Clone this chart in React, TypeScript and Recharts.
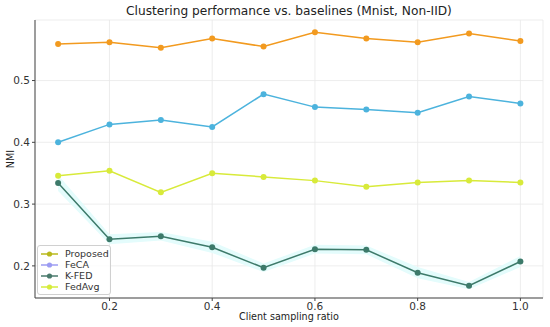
import {
  ComposedChart,
  Line,
  Area,
  XAxis,
  YAxis,
  CartesianGrid,
} from "recharts";

const ratios = [0.1, 0.2, 0.3, 0.4, 0.5, 0.6, 0.7, 0.8, 0.9, 1.0];
const proposed = [0.559, 0.562, 0.553, 0.568, 0.555, 0.578, 0.568, 0.562, 0.576, 0.564];
const feca = [0.4, 0.429, 0.436, 0.425, 0.478, 0.457, 0.453, 0.448, 0.474, 0.463];
const kfed = [0.334, 0.243, 0.248, 0.23, 0.197, 0.227, 0.226, 0.189, 0.168, 0.207];
const kfedSpread = [0.013, 0.008, 0.007, 0.009, 0.007, 0.007, 0.007, 0.009, 0.006, 0.009];
const fedavg = [0.346, 0.354, 0.319, 0.35, 0.344, 0.338, 0.328, 0.335, 0.338, 0.335];

const xTicks = [0.2, 0.4, 0.6, 0.8, 1.0];
const yTicks = [0.2, 0.3, 0.4, 0.5];

const legendItems = [
  { name: "Proposed", color: "#b8b81c" },
  { name: "FeCA", color: "#9c9cf2" },
  { name: "K-FED", color: "#4a7a6c" },
  { name: "FedAvg", color: "#d6ec3c" },
];

const data = ratios.map((r, i) => ({
  ratio: r,
  proposed: proposed[i],
  feca: feca[i],
  kfed: kfed[i],
  fedavg: fedavg[i],
  band: [kfed[i] - kfedSpread[i], kfed[i] + kfedSpread[i]],
}));

const FONT = "'DejaVu Sans', sans-serif";

function LegendBox() {
  return (
    <div
      style={{
        position: "absolute",
        left: 37,
        top: 245,
        width: 70,
        background: "rgba(255,255,255,0.8)",
        border: "1px solid #d0d0d0",
        borderRadius: 3,
        padding: "2px 0 2px 2px",
        fontFamily: FONT,
        fontSize: 9.5,
        color: "#333",
      }}
    >
      {legendItems.map((it) => (
        <div key={it.name} style={{ display: "flex", alignItems: "center", height: 11 }}>
          <svg width={20} height={8} style={{ marginRight: 5 }}>
            <line x1={1} y1={4} x2={18} y2={4} stroke={it.color} strokeWidth={1.5} />
            <circle cx={9.5} cy={4} r={2.6} fill={it.color} />
          </svg>
          <span>{it.name}</span>
        </div>
      ))}
    </div>
  );
}

export default function App() {
  const dot = (c: string) => ({ r: 3, fill: c, stroke: c, strokeWidth: 0 });
  return (
    <div style={{ position: "absolute", left: 0, top: 0, width: 550, height: 327, background: "#fff" }}>
      <ComposedChart
        width={550}
        height={327}
        data={data}
        margin={{ top: 20, right: 7, bottom: 0, left: 0 }}
      >
        <CartesianGrid stroke="#e8e8e8" strokeWidth={0.8} />
        <XAxis
          dataKey="ratio"
          type="number"
          domain={[0.055, 1.044]}
          ticks={xTicks}
          allowDataOverflow
          height={29}
          tickFormatter={(v: number) => v.toFixed(1)}
          tick={{ fontFamily: FONT, fontSize: 10.5, fill: "#333" }}
          axisLine={{ stroke: "#444", strokeWidth: 1 }}
          tickLine={{ stroke: "#444" }}
          tickSize={3}
        />
        <YAxis
          type="number"
          domain={[0.148, 0.598]}
          ticks={yTicks}
          allowDataOverflow
          width={35}
          tickFormatter={(v: number) => v.toFixed(1)}
          tick={{ fontFamily: FONT, fontSize: 10.5, fill: "#333" }}
          axisLine={{ stroke: "#444", strokeWidth: 1 }}
          tickLine={{ stroke: "#444" }}
          tickSize={3}
        />
        <Area
          dataKey="band"
          stroke="none"
          fill="#e4fcfc"
          fillOpacity={1}
          isAnimationActive={false}
          activeDot={false}
          legendType="none"
        />
        <Line dataKey="proposed" name="Proposed" stroke="#f29a1f" strokeWidth={1.5} dot={dot("#f29a1f")} isAnimationActive={false} />
        <Line dataKey="feca" name="FeCA" stroke="#4cb3dd" strokeWidth={1.5} dot={dot("#4cb3dd")} isAnimationActive={false} />
        <Line dataKey="kfed" name="K-FED" stroke="#3d7a6a" strokeWidth={1.5} dot={dot("#3d7a6a")} isAnimationActive={false} />
        <Line dataKey="fedavg" name="FedAvg" stroke="#d8ea3a" strokeWidth={1.5} dot={dot("#d8ea3a")} isAnimationActive={false} />
      </ComposedChart>
      <div
        style={{
          position: "absolute",
          left: 35,
          width: 508,
          top: 4,
          textAlign: "center",
          fontFamily: FONT,
          fontSize: 12.2,
          color: "#222",
        }}
      >
        Clustering performance vs. baselines (Mnist, Non-IID)
      </div>
      <div
        style={{
          position: "absolute",
          left: 35,
          width: 508,
          top: 311,
          textAlign: "center",
          fontFamily: FONT,
          fontSize: 9.6,
          color: "#222",
        }}
      >
        Client sampling ratio
      </div>
      <div
        style={{
          position: "absolute",
          left: 10,
          top: 159,
          transform: "translate(-50%, -50%) rotate(-90deg)",
          fontFamily: FONT,
          fontSize: 9.6,
          color: "#222",
        }}
      >
        NMI
      </div>
      <LegendBox />
    </div>
  );
}
